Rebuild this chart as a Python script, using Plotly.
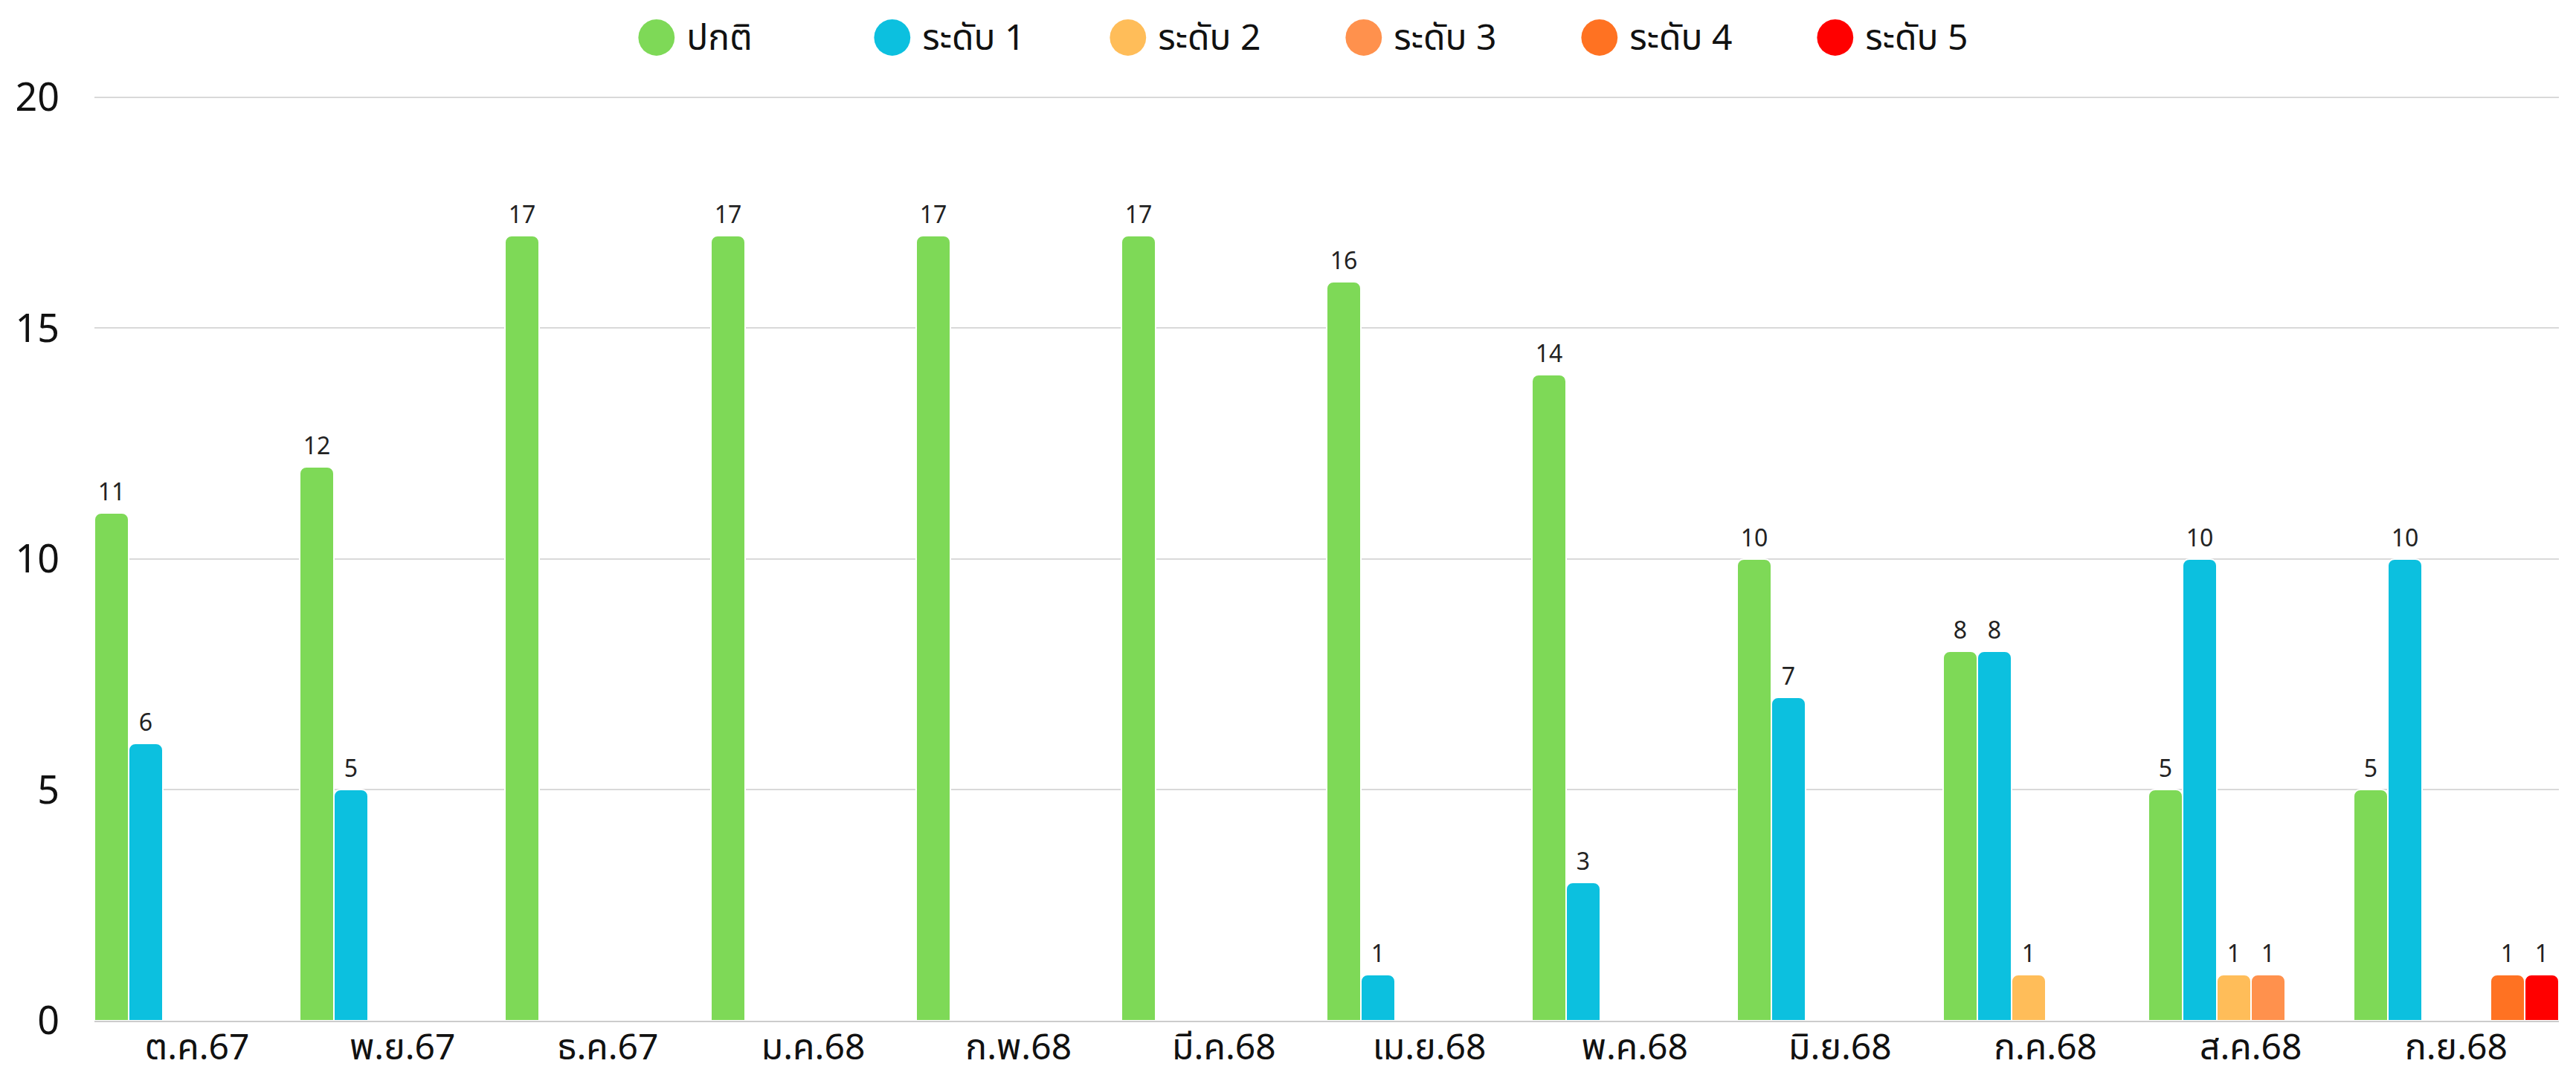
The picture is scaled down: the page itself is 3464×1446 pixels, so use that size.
import plotly.graph_objects as go

categories = ["ต.ค.67", "พ.ย.67", "ธ.ค.67", "ม.ค.68", "ก.พ.68", "มี.ค.68",
              "เม.ย.68", "พ.ค.68", "มิ.ย.68", "ก.ค.68", "ส.ค.68", "ก.ย.68"]
series_names = ["ปกติ", "ระดับ 1", "ระดับ 2", "ระดับ 3", "ระดับ 4", "ระดับ 5"]
normal = [11, 12, 17, 17, 17, 17, 16, 14, 10, 8, 5, 5]
level1 = [6, 5, 0, 0, 0, 0, 1, 3, 7, 8, 10, 10]
level2 = [0, 0, 0, 0, 0, 0, 0, 0, 0, 1, 1, 0]
level3 = [0, 0, 0, 0, 0, 0, 0, 0, 0, 0, 1, 0]
level4 = [0, 0, 0, 0, 0, 0, 0, 0, 0, 0, 0, 1]
level5 = [0, 0, 0, 0, 0, 0, 0, 0, 0, 0, 0, 1]
colors = ["#7ED957", "#0CC0DF", "#FFBD59", "#FF914D", "#FF7222", "#FF0000"]

FONT = "Noto Sans Thai, Noto Sans, Loma, Garuda, sans-serif"
W, H = 3464, 1446
ML, MR, MT, MB = 119, 31, 121, 81
PLOT_H = H - MT - MB
PLOT_W = W - ML - MR

fig = go.Figure()
for name, vals, col in zip(series_names, [normal, level1, level2, level3, level4, level5], colors):
    yv = [v if v else None for v in vals]
    fig.add_trace(go.Bar(
        x=categories, y=yv, name=name,
        marker=dict(color=col, line=dict(color="white", width=2)),
        text=[str(v) if v else "" for v in vals],
        textposition="outside", cliponaxis=False, constraintext="none",
        textfont=dict(size=32, color="#222", family=FONT),
        showlegend=False, legendgroup=name, hoverinfo="x+y+name",
    ))
    fig.add_trace(go.Scatter(
        x=[None], y=[None], mode="markers", legendgroup=name,
        name=f'<span style="color:{col};font-size:64px;font-family:DejaVu Sans">●</span> {name}',
        marker=dict(color="rgba(0,0,0,0)", size=1), showlegend=True,
    ))

fig.update_layout(
    width=W, height=H,
    margin=dict(l=ML, r=MR, t=MT, b=MB, autoexpand=False),
    paper_bgcolor="white", plot_bgcolor="white",
    barmode="group", bargap=0, bargroupgap=0, barcornerradius=9,
    font=dict(family=FONT, color="#111"),
    legend=dict(orientation="h", x=0.5 - 18 / PLOT_W, xanchor="center",
                y=1 + 80 / PLOT_H, yanchor="middle",
                font=dict(size=48, family=FONT, color="#111"),
                itemsizing="trace", itemwidth=30, entrywidth=272, tracegroupgap=0),
    xaxis=dict(showgrid=False, showline=True, linecolor="#cccccc", linewidth=2,
               tickfont=dict(size=48, family=FONT, color="#111"),
               ticks="", ticklabelstandoff=-8),
    yaxis=dict(range=[0, 20.03], tickvals=[0, 5, 10, 15, 20], showgrid=True,
               gridcolor="#d9d9d9", gridwidth=2,
               zeroline=False, showline=False,
               tickfont=dict(size=52, family=FONT, color="#111"),
               ticklabelstandoff=46),
)

fig.write_html("out.html")
